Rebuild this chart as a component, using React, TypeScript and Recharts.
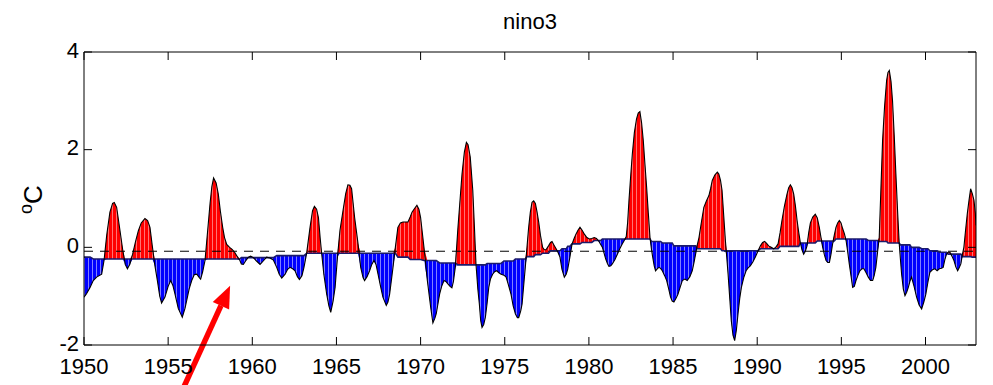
import React from 'react';
import { ComposedChart, Area, Line, XAxis, YAxis, ReferenceLine } from 'recharts';

const FONT = '"Liberation Sans", Arial, Helvetica, sans-serif';

// nino3 SST anomaly (degC), grouped by decade
const years1950s = [
  1950.0, 1950.15, 1950.36, 1950.55, 1950.75,
  1951.05, 1951.19, 1951.35, 1951.54, 1951.7, 1951.8, 1951.94,
  1952.14, 1952.3, 1952.45, 1952.58, 1952.73, 1952.89,
  1953.05, 1953.23, 1953.4, 1953.62, 1953.78, 1953.92,
  1954.05, 1954.2, 1954.36, 1954.5, 1954.61, 1954.81,
  1955.0, 1955.15, 1955.28, 1955.4, 1955.6, 1955.84,
  1956.0, 1956.1, 1956.25, 1956.4, 1956.55, 1956.7, 1956.85, 1956.93,
  1957.05, 1957.19, 1957.35, 1957.49, 1957.6, 1957.7, 1957.85, 1957.98,
  1958.1, 1958.24, 1958.35, 1958.48, 1958.65, 1958.8, 1958.95,
  1959.07, 1959.25, 1959.35, 1959.47, 1959.6, 1959.77, 1959.9,
];
const sst1950s = [
  -1.02, -0.95, -0.82, -0.68, -0.61,
  -0.55, -0.27, 0.25, 0.72, 0.9, 0.92, 0.82,
  0.34, -0.05, -0.35, -0.44, -0.34, -0.14,
  0.1, 0.34, 0.5, 0.59, 0.55, 0.41,
  0.05, -0.35, -0.68, -1.0, -1.14, -1.02,
  -0.8, -0.68, -0.78, -0.95, -1.25, -1.43,
  -1.25, -1.09, -0.85, -0.68, -0.56, -0.55, -0.62, -0.65,
  -0.5, -0.27, 0.35, 0.9, 1.25, 1.42, 1.32, 1.09,
  0.75, 0.41, 0.2, 0.06, 0.0, -0.04, -0.1,
  -0.17, -0.26, -0.34, -0.35, -0.28, -0.2, -0.18,
];

const years1960s = [
  1960.06, 1960.25, 1960.46, 1960.65, 1960.85,
  1961.05, 1961.25, 1961.45, 1961.6, 1961.75, 1961.95,
  1962.1, 1962.24, 1962.4, 1962.54, 1962.68, 1962.8, 1962.95,
  1963.07, 1963.23, 1963.43, 1963.58, 1963.69, 1963.82, 1963.93,
  1964.03, 1964.12, 1964.25, 1964.42, 1964.55, 1964.66, 1964.8, 1964.92,
  1965.06, 1965.21, 1965.39, 1965.55, 1965.68, 1965.8, 1965.9,
  1966.08, 1966.28, 1966.44, 1966.58, 1966.67, 1966.82, 1966.97,
  1967.1, 1967.23, 1967.35, 1967.47, 1967.62, 1967.76, 1967.96,
  1968.06, 1968.16, 1968.36, 1968.5, 1968.65, 1968.8, 1968.95,
  1969.1, 1969.25, 1969.38, 1969.49, 1969.65, 1969.78, 1969.9,
];
const sst1960s = [
  -0.21, -0.28, -0.35, -0.28, -0.2,
  -0.22, -0.26, -0.41, -0.55, -0.63, -0.55,
  -0.45, -0.41, -0.44, -0.48, -0.6, -0.66, -0.58,
  -0.41, -0.12, 0.41, 0.75, 0.84, 0.78, 0.61,
  0.2, -0.12, -0.55, -0.96, -1.2, -1.33, -1.1, -0.82,
  -0.2, 0.35, 0.75, 1.1, 1.28, 1.27, 1.2,
  0.61, 0.08, -0.41, -0.62, -0.68, -0.6, -0.48,
  -0.35, -0.27, -0.35, -0.55, -0.8, -1.02, -1.19,
  -1.12, -0.96, -0.41, 0.0, 0.41, 0.5, 0.52,
  0.52, 0.52, 0.62, 0.72, 0.8, 0.86, 0.78,
];

const years1970s = [
  1970.0, 1970.2, 1970.4, 1970.6, 1970.73, 1970.85, 1970.93,
  1971.13, 1971.25, 1971.39, 1971.5, 1971.62, 1971.75, 1971.86, 1971.95,
  1972.06, 1972.22, 1972.35, 1972.46, 1972.6, 1972.72, 1972.82, 1972.95,
  1973.1, 1973.2, 1973.29, 1973.4, 1973.49, 1973.57, 1973.65, 1973.75, 1973.85, 1973.95,
  1974.05, 1974.15, 1974.28, 1974.4, 1974.52, 1974.65, 1974.78, 1974.95,
  1975.08, 1975.2, 1975.37, 1975.5, 1975.63, 1975.75, 1975.83, 1975.95,
  1976.03, 1976.12, 1976.22, 1976.32, 1976.42, 1976.52, 1976.62, 1976.72, 1976.82, 1976.92,
  1977.02, 1977.12, 1977.25, 1977.35, 1977.45, 1977.6, 1977.72, 1977.81, 1977.92,
  1978.05, 1978.16, 1978.28, 1978.4, 1978.54, 1978.65, 1978.74, 1978.87,
  1979.0, 1979.12, 1979.23, 1979.35, 1979.47, 1979.6, 1979.73, 1979.88,
];
const sst1970s = [
  0.61, 0.0, -0.68, -1.23, -1.55, -1.45, -1.36,
  -0.96, -0.8, -0.68, -0.7, -0.75, -0.8, -0.83, -0.7,
  -0.41, 0.41, 1.0, 1.5, 1.95, 2.15, 2.1, 1.85,
  1.17, 0.4, -0.34, -0.85, -1.16, -1.5, -1.64, -1.58, -1.43, -1.15,
  -0.82, -0.65, -0.55, -0.5, -0.48, -0.52, -0.55, -0.57,
  -0.61, -0.75, -0.96, -1.2, -1.36, -1.44, -1.44, -1.3,
  -1.16, -0.8, -0.41, 0.0, 0.41, 0.72, 0.92, 0.95, 0.9, 0.72,
  0.51, 0.25, 0.0, -0.05, -0.05, 0.03, 0.1, 0.12, 0.05,
  -0.03, -0.1, -0.2, -0.45, -0.61, -0.55, -0.45, -0.2,
  0.07, 0.18, 0.27, 0.35, 0.41, 0.35, 0.27, 0.2,
];

const years1980s = [
  1980.03, 1980.17, 1980.32, 1980.45, 1980.6, 1980.7, 1980.8, 1980.9,
  1981.0, 1981.1, 1981.19, 1981.3, 1981.39, 1981.55, 1981.69, 1981.85, 1981.98,
  1982.1, 1982.22, 1982.3, 1982.38, 1982.48, 1982.58, 1982.7, 1982.83, 1982.93,
  1983.03, 1983.13, 1983.23, 1983.33, 1983.43, 1983.53, 1983.63, 1983.72, 1983.79, 1983.88, 1983.96,
  1984.06, 1984.16, 1984.26, 1984.36, 1984.5, 1984.62, 1984.74, 1984.85, 1984.95,
  1985.05, 1985.17, 1985.29, 1985.42, 1985.55, 1985.7, 1985.84,
  1986.0, 1986.14, 1986.24, 1986.34, 1986.44, 1986.54, 1986.7, 1986.83, 1986.98,
  1987.13, 1987.23, 1987.33, 1987.48, 1987.63, 1987.72, 1987.82, 1987.91,
  1988.0, 1988.11, 1988.19, 1988.27, 1988.37, 1988.46, 1988.56, 1988.66, 1988.76, 1988.86, 1988.96,
  1989.06, 1989.2, 1989.34, 1989.46, 1989.59, 1989.74, 1989.89,
];
const sst1980s = [
  0.17, 0.18, 0.2, 0.18, 0.12, 0.06, 0.0, -0.12,
  -0.24, -0.33, -0.39, -0.38, -0.34, -0.25, -0.14, -0.02, 0.07,
  0.14, 0.22, 0.5, 0.96, 1.45, 1.91, 2.35, 2.63, 2.75,
  2.78, 2.55, 2.19, 1.7, 1.23, 0.7, 0.2, -0.05, -0.2, -0.38, -0.48,
  -0.44, -0.41, -0.43, -0.48, -0.58, -0.68, -0.85, -1.02, -1.1,
  -1.12, -1.05, -0.96, -0.82, -0.68, -0.65, -0.68,
  -0.6, -0.48, -0.32, -0.14, 0.05, 0.2, 0.55, 0.82, 0.95,
  1.06, 1.2, 1.37, 1.48, 1.54, 1.5, 1.37, 1.17,
  0.7, 0.14, -0.2, -0.55, -1.05, -1.5, -1.8, -1.91, -1.7, -1.36, -1.05,
  -0.82, -0.62, -0.48, -0.42, -0.38, -0.3, -0.2,
];

const years1990s = [
  1990.04, 1990.19, 1990.32, 1990.44, 1990.56, 1990.68, 1990.83, 1990.98,
  1991.1, 1991.24, 1991.36, 1991.47, 1991.62, 1991.77, 1991.87, 1991.97,
  1992.07, 1992.17, 1992.27, 1992.37, 1992.47, 1992.56, 1992.66, 1992.76, 1992.86, 1992.96,
  1993.06, 1993.16, 1993.3, 1993.45, 1993.57, 1993.69, 1993.79, 1993.89, 1993.99,
  1994.09, 1994.19, 1994.29, 1994.38, 1994.48, 1994.58, 1994.68, 1994.78, 1994.88, 1994.98,
  1995.08, 1995.18, 1995.28, 1995.38, 1995.47, 1995.58, 1995.67, 1995.77, 1995.87, 1995.98,
  1996.1, 1996.22, 1996.34, 1996.47, 1996.6, 1996.73, 1996.86, 1996.95,
  1997.05, 1997.15, 1997.25, 1997.35, 1997.45, 1997.57, 1997.69, 1997.77, 1997.85, 1997.95,
  1998.04, 1998.14, 1998.24, 1998.34, 1998.44, 1998.51, 1998.58, 1998.68, 1998.78, 1998.88, 1998.98,
  1999.07, 1999.17, 1999.32, 1999.47, 1999.62, 1999.77, 1999.9,
];
const sst1990s = [
  -0.08, 0.03, 0.1, 0.12, 0.08, 0.03, 0.0, -0.03,
  0.0, 0.07, 0.3, 0.55, 0.85, 1.09, 1.22, 1.28,
  1.22, 1.09, 0.85, 0.55, 0.3, 0.1, -0.05, -0.14, -0.08, 0.03,
  0.3, 0.5, 0.62, 0.68, 0.6, 0.41, 0.2, 0.0, -0.15,
  -0.27, -0.31, -0.31, -0.15, 0.07, 0.25, 0.41, 0.5, 0.55, 0.5,
  0.38, 0.28, 0.14, -0.1, -0.34, -0.6, -0.82, -0.8, -0.68, -0.58,
  -0.48, -0.44, -0.44, -0.52, -0.61, -0.68, -0.68, -0.58,
  -0.41, -0.1, 0.2, 1.2, 2.19, 2.9, 3.42, 3.58, 3.62, 3.4,
  3.0, 2.3, 1.5, 0.75, 0.07, -0.25, -0.55, -0.85, -0.99, -0.92, -0.82,
  -0.7, -0.61, -0.8, -1.02, -1.18, -1.26, -1.12,
];

const years2000s = [
  2000.02, 2000.14, 2000.26, 2000.41, 2000.56, 2000.69, 2000.82, 2000.95,
  2001.05, 2001.15, 2001.25, 2001.35, 2001.45, 2001.57, 2001.69, 2001.8, 2001.91,
  2002.0, 2002.1, 2002.19, 2002.28, 2002.38, 2002.48, 2002.58, 2002.68, 2002.78, 2002.88, 2002.96, 2003.0,
];
const sst2000s = [
  -0.96, -0.72, -0.51, -0.46, -0.44, -0.48, -0.44, -0.43,
  -0.41, -0.25, -0.14, -0.1, -0.1, -0.18, -0.27, -0.4, -0.48,
  -0.42, -0.34, -0.15, 0.0, 0.35, 0.68, 0.95, 1.2, 1.1, 0.96, 0.7, 0.45,
];

// slowly varying reference level (stepped), start year of each step and its level
const baseStarts = [
  1950.0, 1950.4, 1959.3, 1961.35, 1963.1, 1968.55, 1969.35, 1970.2, 1971.05, 1972.1,
  1973.9, 1974.8, 1975.6, 1976.25, 1976.8, 1977.2, 1977.7, 1978.3, 1978.7, 1979.0,
  1979.6, 1980.2, 1980.75, 1983.65, 1984.3, 1985.05, 1986.35, 1987.85, 1990.1, 1991.25,
  1992.55, 1993.55, 1994.65, 1996.5, 1997.2, 1997.7, 1998.45, 1999.1, 1999.7, 2000.2,
  2000.7, 2001.3, 2002.15, 2002.75,
];
const baseLevels = [
  -0.2, -0.24, -0.21, -0.17, -0.12, -0.2, -0.25, -0.27, -0.32, -0.36,
  -0.33, -0.28, -0.24, -0.19, -0.15, -0.12, -0.07, -0.03, 0.02, 0.07,
  0.1, 0.14, 0.17, 0.12, 0.09, 0.03, -0.03, -0.07, -0.03, 0.02,
  0.09, 0.13, 0.17, 0.14, 0.12, 0.09, 0.05, 0.0, -0.03, -0.07,
  -0.1, -0.14, -0.19, -0.2,
];

const meanLevel = -0.08;
const xTicks = [1950, 1955, 1960, 1965, 1970, 1975, 1980, 1985, 1990, 1995, 2000];
const yTicks = [-2, 0, 2, 4];

const allYears = [...years1950s, ...years1960s, ...years1970s, ...years1980s, ...years1990s, ...years2000s];
const allSst = [...sst1950s, ...sst1960s, ...sst1970s, ...sst1980s, ...sst1990s, ...sst2000s];

function levelAt(t: number) {
  let level = baseLevels[0];
  baseStarts.forEach((s, i) => {
    if (t >= s) level = baseLevels[i];
  });
  return level;
}

const chartData = allYears.map((year, i) => {
  const sst = allSst[i];
  const base = levelAt(year);
  return {
    year,
    sst,
    base,
    warm: [base, Math.max(sst, base)],
    cold: [Math.min(sst, base), base],
  };
});

const BottomTick = (props: any) => {
  const { x, y, payload } = props;
  return (
    <g>
      <line x1={x} y1={y} x2={x} y2={y - 8} stroke="#000" />
      <text x={x} y={y + 21} textAnchor="middle" dominantBaseline="central"
        fontSize={22} fontFamily={FONT} fill="#000">{payload.value}</text>
    </g>
  );
};

const TopTick = (props: any) => {
  const { x, y } = props;
  return <line x1={x} y1={y} x2={x} y2={y + 8} stroke="#000" />;
};

const LeftTick = (props: any) => {
  const { x, y, payload } = props;
  return (
    <g>
      <line x1={x} y1={y} x2={x + 8} y2={y} stroke="#000" />
      <text x={x - 5} y={y - 2} textAnchor="end" dominantBaseline="central"
        fontSize={22} fontFamily={FONT} fill="#000">{payload.value}</text>
    </g>
  );
};

const RightTick = (props: any) => {
  const { x, y } = props;
  return <line x1={x} y1={y} x2={x - 8} y2={y} stroke="#000" />;
};

const UnitLabel = () => (
  <text transform="translate(34, 206) rotate(-90)" fontFamily={FONT} fill="#000">
    <tspan fontSize={18} dy={-10}>o</tspan>
    <tspan fontSize={26} dy={10}>C</tspan>
  </text>
);

const Arrow = (props: any) => {
  const { x1, y1, x2, y2 } = props;
  const dx = x2 - x1;
  const dy = y2 - y1;
  const len = Math.sqrt(dx * dx + dy * dy);
  const ux = dx / len;
  const uy = dy / len;
  const headLen = 22;
  const half = 9;
  const bx = x2 - ux * headLen;
  const by = y2 - uy * headLen;
  const pts = `${x2},${y2} ${bx - uy * half},${by + ux * half} ${bx + uy * half},${by - ux * half}`;
  return (
    <g>
      <line x1={x1} y1={y1} x2={bx} y2={by} stroke="#ff0000" strokeWidth={5.5} />
      <polygon points={pts} fill="#ff0000" />
    </g>
  );
};

export default function App() {
  return (
    <div style={{ position: 'relative', width: 985, height: 377 }}>
      <svg width={0} height={0} style={{ position: 'absolute' }}>
        <defs>
          <pattern id="warmFill" width="4" height="10" patternUnits="userSpaceOnUse">
            <rect width="4" height="10" fill="#ff0000" />
            <rect x="0" width="1" height="10" fill="#ffffff" opacity="0.45" />
          </pattern>
          <pattern id="coldFill" width="4" height="10" patternUnits="userSpaceOnUse">
            <rect width="4" height="10" fill="#0000ff" />
            <rect x="0" width="1" height="10" fill="#ffffff" opacity="0.5" />
          </pattern>
        </defs>
      </svg>
      <div style={{
        position: 'absolute', left: 422, top: 1, width: 200, textAlign: 'center',
        fontFamily: FONT, fontSize: 22, color: '#000',
      }}>nino3</div>
      <ComposedChart width={985} height={377} data={chartData}
        margin={{ top: 43, right: 16, bottom: 0, left: 16 }}>
        <XAxis dataKey="year" type="number" domain={[1950, 2003]} ticks={xTicks} interval={0}
          allowDataOverflow height={40} tickSize={0} tickMargin={0} tickLine={false}
          tick={<BottomTick />} axisLine={{ stroke: '#000' }} />
        <XAxis xAxisId="top" orientation="top" dataKey="year" type="number" domain={[1950, 2003]}
          ticks={xTicks} interval={0} allowDataOverflow height={1} tickSize={0} tickMargin={0}
          tickLine={false} tick={<TopTick />} axisLine={{ stroke: '#000' }} />
        <YAxis type="number" domain={[-2, 4]} ticks={yTicks} interval={0} allowDataOverflow width={60}
          tickSize={0} tickMargin={0} tickLine={false} tick={<LeftTick />} axisLine={{ stroke: '#000' }}
          label={<UnitLabel />} />
        <YAxis yAxisId="right" orientation="right" type="number" domain={[-2, 4]} ticks={yTicks}
          interval={0} allowDataOverflow width={1} tickSize={0} tickMargin={0} tickLine={false}
          tick={<RightTick />} axisLine={{ stroke: '#000' }} />
        <Area type="linear" dataKey="warm" stroke="none" fill="url(#warmFill)" fillOpacity={1}
          isAnimationActive={false} dot={false} activeDot={false} />
        <Area type="linear" dataKey="cold" stroke="none" fill="url(#coldFill)" fillOpacity={1}
          isAnimationActive={false} dot={false} activeDot={false} />
        <ReferenceLine y={meanLevel} stroke="#000" strokeDasharray="9 7" strokeWidth={1} />
        <Line type="linear" dataKey="base" stroke="#1b1b6b" strokeWidth={1.6} dot={false}
          activeDot={false} isAnimationActive={false} />
        <Line type="linear" dataKey="sst" stroke="#000" strokeWidth={1.1} dot={false}
          activeDot={false} isAnimationActive={false} />
        <ReferenceLine segment={[{ x: 1955.88, y: -2.9 }, { x: 1958.68, y: -0.785 }]}
          ifOverflow="visible" shape={<Arrow />} />
      </ComposedChart>
    </div>
  );
}
